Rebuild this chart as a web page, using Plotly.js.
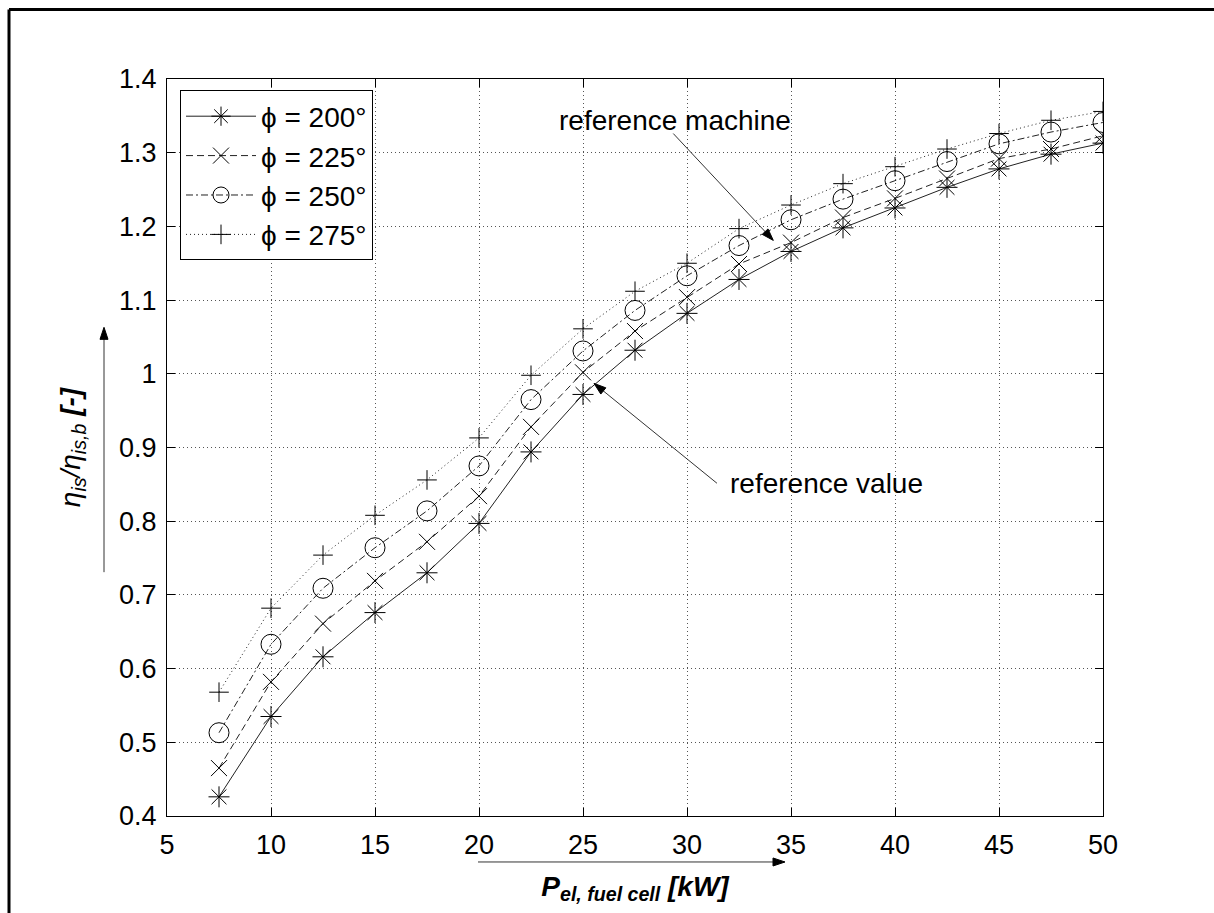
<!DOCTYPE html>
<html>
<head>
<meta charset="utf-8">
<script src="https://cdn.plot.ly/plotly-3.0.1.min.js"></script>
<style>
html,body{margin:0;padding:0;background:#fff;}
#chart{width:1214px;height:913px;}
</style>
</head>
<body>
<div id="chart"></div>
<script>
// ---- data ----
var powerKW = [7.5,10,12.5,15,17.5,20,22.5,25,27.5,30,32.5,35,37.5,40,42.5,45,47.5,50];
var phi200 = [0.426,0.535,0.616,0.676,0.730,0.797,0.894,0.972,1.032,1.082,1.128,1.166,1.198,1.225,1.253,1.278,1.298,1.313];
var phi225 = [0.465,0.582,0.661,0.719,0.772,0.834,0.928,1.002,1.058,1.104,1.149,1.178,1.212,1.238,1.265,1.292,1.305,1.323];
var phi250 = [0.513,0.633,0.709,0.764,0.814,0.875,0.965,1.031,1.086,1.133,1.174,1.209,1.237,1.262,1.288,1.312,1.328,1.341];
var phi275 = [0.568,0.682,0.754,0.808,0.856,0.913,0.998,1.061,1.112,1.150,1.197,1.229,1.258,1.281,1.305,1.326,1.344,1.356];
var seriesNames = ["\u03d5 = 200\u00b0","\u03d5 = 225\u00b0","\u03d5 = 250\u00b0","\u03d5 = 275\u00b0"];
var xTickVals = [5,10,15,20,25,30,35,40,45,50];
var yTickVals = [0.4,0.5,0.6,0.7,0.8,0.9,1,1.1,1.2,1.3,1.4];
var yTickText = ["0.4","0.5","0.6","0.7","0.8","0.9","1","1.1","1.2","1.3","1.4"];

var FONT = "Liberation Sans, Arial, Helvetica, sans-serif";
var INK = "#000";
var FS = 28, TFS = 27;

function mk(y, name, dash, symbol, size){
  return {
    x: powerKW, y: y, name: name, type: "scatter", mode: "lines+markers",
    line: {color: "#222", width: 1, dash: dash},
    marker: {symbol: symbol, size: size, color: INK, line: {color: INK, width: 1}}
  };
}
var traces = [
  mk(phi200, seriesNames[0], "solid", "asterisk-open", 17.5),
  mk(phi225, seriesNames[1], "7px,4px", "x-thin-open", 16),
  mk(phi250, seriesNames[2], "7px,3px,2px,3px", "circle-open", 20),
  mk(phi275, seriesNames[3], "1px,3px", "cross-thin-open", 14)
];

var L = 167, R = 1103, T = 78.5, B = 816;
var W = R - L, H = B - T;
var XR = [5, 50], YR = [0.4, 1.4];
function px(xp){ return (xp - L) / W; }
function py(yp){ return (B - yp) / H; }

// arrow = shaft line + filled head (head drawn in pixel units at the tip)
function arrow(ref, tail, tip, sx, sy){
  var dx = (tip[0] - tail[0]) * sx, dy = (tip[1] - tail[1]) * sy; // pixel, y up
  var n = Math.sqrt(dx*dx + dy*dy); var ux = dx/n, uy = dy/n;
  var len = 12, hw = 4;
  var bx = -len*ux, by = -len*uy;
  var p1 = [bx + hw*(-uy), by + hw*ux], p2 = [bx - hw*(-uy), by - hw*ux];
  var xr = ref === "paper" ? "paper" : "x", yr = ref === "paper" ? "paper" : "y";
  return [
    {type: "line", xref: xr, yref: yr, x0: tail[0], y0: tail[1], x1: tip[0] - 0.7*len*ux/sx, y1: tip[1] - 0.7*len*uy/sy,
     line: {color: "#333", width: 1}},
    {type: "path", xref: xr, yref: yr, xsizemode: "pixel", ysizemode: "pixel", xanchor: tip[0], yanchor: tip[1],
     path: "M0,0 L" + p1[0].toFixed(2) + "," + p1[1].toFixed(2) + " L" + p2[0].toFixed(2) + "," + p2[1].toFixed(2) + " Z",
     fillcolor: INK, line: {color: INK, width: 1}}
  ];
}
var sxData = W / (XR[1] - XR[0]), syData = H / (YR[1] - YR[0]);
var shapes = [].concat(
  arrow("data", [29.34, 1.326], [34.15, 1.181], sxData, syData),
  arrow("data", [31.44, 0.8515], [25.53, 0.987], sxData, syData),
  arrow("paper", [px(104), py(572)], [px(104), py(327)], W, H),
  arrow("paper", [px(478), py(862)], [px(785), py(862)], W, H),
  [
    {type: "line", xref: "paper", yref: "paper", x0: px(9), x1: px(9), y0: py(9), y1: py(930), line: {color: INK, width: 3}},
    {type: "line", xref: "paper", yref: "paper", x0: px(9), x1: px(1230), y0: py(9), y1: py(9), line: {color: INK, width: 3}}
  ]
);

var layout = {
  width: 1214, height: 913,
  margin: {l: L, r: 1214 - R, t: T, b: 913 - B, pad: 0},
  paper_bgcolor: "#fff", plot_bgcolor: "#fff",
  font: {family: FONT, size: FS, color: INK},
  showlegend: true,
  legend: {
    x: px(180), y: py(90), xanchor: "left", yanchor: "top",
    bgcolor: "#fff", bordercolor: INK, borderwidth: 1,
    font: {family: FONT, size: FS, color: INK},
    itemwidth: 70, tracegroupgap: 0
  },
  xaxis: {
    range: XR, tickvals: xTickVals, ticks: "inside", ticklen: 8, tickcolor: INK,
    showline: true, linecolor: INK, linewidth: 1, mirror: "ticks",
    showgrid: true, gridcolor: "#555", gridwidth: 1, griddash: "1px,3px",
    zeroline: false, tickfont: {family: FONT, size: TFS, color: INK},
    ticklabelstandoff: 5,
    title: {text: "<b><i>P<sub>el, fuel cell</sub> [kW]</i></b>", font: {family: FONT, size: FS, color: INK}, standoff: 16}
  },
  yaxis: {
    range: YR, tickvals: yTickVals, ticktext: yTickText, ticks: "inside", ticklen: 8, tickcolor: INK,
    showline: true, linecolor: INK, linewidth: 1, mirror: "ticks",
    showgrid: true, gridcolor: "#555", gridwidth: 1, griddash: "1px,3px",
    zeroline: false, tickfont: {family: FONT, size: TFS, color: INK},
    ticklabelstandoff: 4,
    title: {text: "<i>\u03b7<sub>is</sub>/\u03b7<sub>is,b</sub> <b>[-]</b></i>", font: {family: FONT, size: FS, color: INK}, standoff: 30}
  },
  annotations: [
    {xref: "x", yref: "y", x: 29.42, y: 1.344, text: "reference machine", showarrow: false,
     font: {family: FONT, size: FS, color: INK}, xanchor: "center", yanchor: "middle"},
    {xref: "x", yref: "y", x: 31.97, y: 0.8515, text: "reference value", showarrow: false,
     font: {family: FONT, size: FS, color: INK}, xanchor: "left", yanchor: "middle"}
  ],
  shapes: shapes
};

Plotly.newPlot("chart", traces, layout, {displayModeBar: false, staticPlot: true});
</script>
</body>
</html>
